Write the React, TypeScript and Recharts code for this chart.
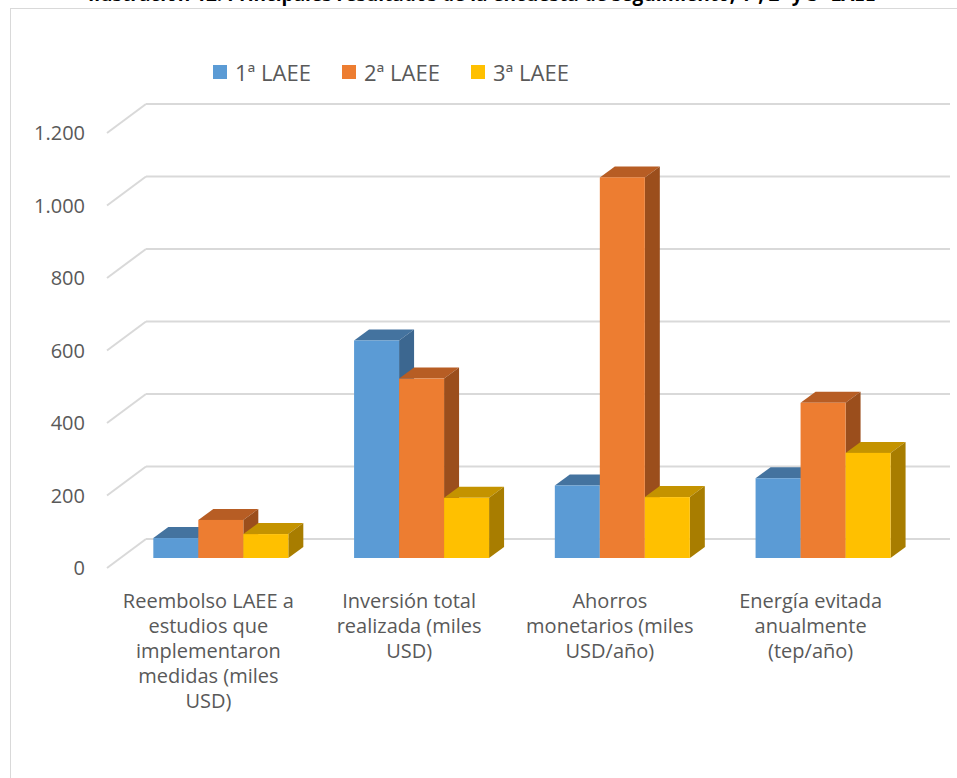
import React from 'react';
import { BarChart, Bar, XAxis, YAxis, CartesianGrid, Legend } from 'recharts';

const categories = [
  'Reembolso LAEE a\nestudios que\nimplementaron\nmedidas (miles\nUSD)',
  'Inversión total\nrealizada (miles\nUSD)',
  'Ahorros\nmonetarios (miles\nUSD/año)',
  'Energía evitada\nanualmente\n(tep/año)',
];
const laee1 = [55, 600, 200, 220];
const laee2 = [105, 495, 1050, 428];
const laee3 = [66, 166, 168, 290];
const yTicks = [0, 200, 400, 600, 800, 1000, 1200];

const data = categories.map((name, i) => ({
  name,
  laee1: laee1[i],
  laee2: laee2[i],
  laee3: laee3[i],
}));

const series = [
  { key: 'laee1', name: '1ª LAEE', fill: '#5B9BD5', top: '#44739F', side: '#3C6790' },
  { key: 'laee2', name: '2ª LAEE', fill: '#ED7D31', top: '#B75D24', side: '#9B4E1C' },
  { key: 'laee3', name: '3ª LAEE', fill: '#FFC000', top: '#C49300', side: '#A87D00' },
];

// depth of the 3D boxes and of the side wall
const DX = 15;
const DY = 11;
const GRID = '#D9D9D9';
const TEXT = '#595959';
const FONT = '"Open Sans", sans-serif';

const fmt = (v: number) =>
  v >= 1000 ? `${Math.floor(v / 1000)}.${String(v % 1000).padStart(3, '0')}` : String(v);

const Box = (props: any) => {
  const { x, y, width, height, fill, top, side } = props;
  if (height == null || width == null) return null;
  return (
    <g>
      <path
        d={`M${x},${y} L${x + DX},${y - DY} L${x + width + DX},${y - DY} L${x + width},${y} Z`}
        fill={top}
      />
      <path
        d={`M${x + width},${y} L${x + width + DX},${y - DY} L${x + width + DX},${y + height - DY} L${x + width},${y + height} Z`}
        fill={side}
      />
      <rect x={x} y={y} width={width} height={height} fill={fill} />
    </g>
  );
};

const wallLine = (p: any) => {
  const { x1, x2, y1, index } = p;
  return (
    <g key={`wall-${index}-${y1}`}>
      <line x1={x1 - 13} y1={y1 + 10} x2={x1 + 26} y2={y1 - 19} stroke={GRID} strokeWidth={2} />
      <line x1={x1 + 26} y1={y1 - 19} x2={x2 + 27} y2={y1 - 19} stroke={GRID} strokeWidth={2} />
    </g>
  );
};

const YTick = (p: any) => (
  <text x={85} y={p.y + 10} dy="0.36em" textAnchor="end" fill={TEXT} fontSize={20} fontFamily={FONT}>
    {fmt(p.payload.value)}
  </text>
);

const XTick = (p: any) => {
  const lines = String(p.payload.value).split('\n');
  const cx = p.x - 12;
  return (
    <text x={cx} y={p.y} textAnchor="middle" fill={TEXT} fontSize={20} fontFamily={FONT}>
      {lines.map((l, i) => (
        <tspan key={i} x={cx} dy={i === 0 ? 48 : 25}>
          {l}
        </tspan>
      ))}
    </text>
  );
};

const LegendContent = (p: any) => (
  <div style={{ display: 'flex', fontFamily: FONT, fontSize: 22, color: TEXT }}>
    {(p.payload || []).map((e: any) => (
      <div key={e.value} style={{ display: 'flex', alignItems: 'center', width: 129 }}>
        <span style={{ width: 14, height: 14, background: e.color, marginRight: 8 }} />
        <span>{e.value}</span>
      </div>
    ))}
  </div>
);

export default function App() {
  return (
    <div style={{ position: 'absolute', left: 0, top: 0, width: 957, height: 778, background: '#fff', overflow: 'hidden' }}>
      <div
        style={{
          position: 'absolute',
          left: 88,
          top: -16,
          fontFamily: '"Open Sans", sans-serif',
          fontWeight: 700,
          fontSize: 19,
          lineHeight: '20px',
          whiteSpace: 'nowrap',
          color: '#000',
        }}
      >
        Ilustración 12: Principales resultados de la encuesta de seguimiento, 1ª, 2ª y 3ª LAEE
      </div>
      <div
        style={{
          position: 'absolute',
          left: 10,
          top: 8,
          width: 960,
          height: 780,
          borderTop: '1px solid #D9D9D9',
          borderLeft: '1px solid #D9D9D9',
          background: '#fff',
        }}
      />
      <div style={{ position: 'absolute', left: 0, top: 0 }}>
        <BarChart
          width={957}
          height={778}
          data={data}
          margin={{ top: 123, right: 34, bottom: 190, left: 60 }}
          barCategoryGap="16.6%"
          barGap={0}
        >
          <CartesianGrid vertical={false} horizontal={wallLine} />
          <YAxis
            width={60}
            domain={[0, 1200]}
            ticks={yTicks}
            axisLine={false}
            tickLine={false}
            tickSize={0}
            tick={<YTick />}
            interval={0}
          />
          <XAxis
            dataKey="name"
            height={30}
            axisLine={false}
            tickLine={false}
            tickSize={0}
            tick={<XTick />}
            interval={0}
          />
          <Legend
            verticalAlign="middle"
            align="center"
            content={<LegendContent />}
            wrapperStyle={{ top: 57, left: 213, width: 'auto' }}
          />
          {series.map((s) => (
            <Bar
              key={s.key}
              dataKey={s.key}
              name={s.name}
              fill={s.fill}
              isAnimationActive={false}
              shape={(props: any) => <Box {...props} fill={s.fill} top={s.top} side={s.side} />}
            />
          ))}
        </BarChart>
      </div>
    </div>
  );
}
